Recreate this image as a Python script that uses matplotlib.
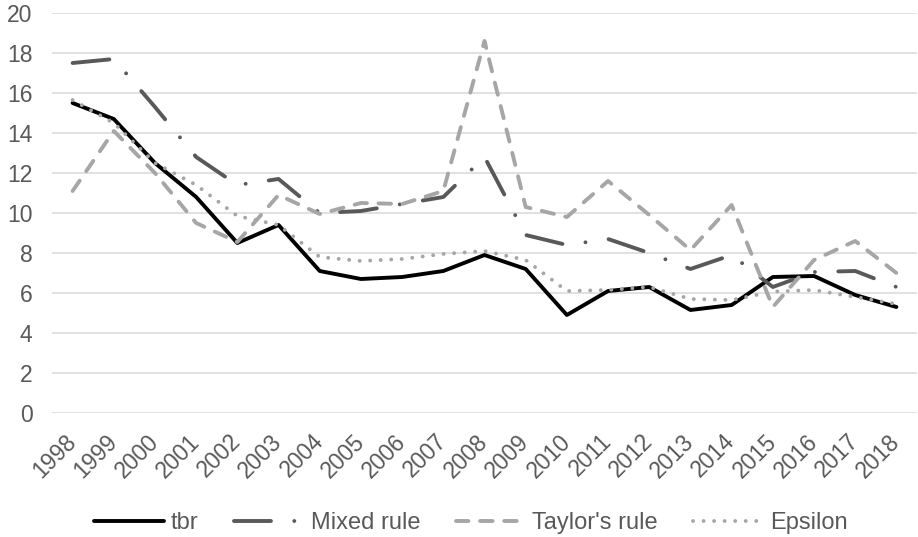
import matplotlib
matplotlib.use("Agg")
import matplotlib.pyplot as plt
import numpy as np

years = ["1998", "1999", "2000", "2001", "2002", "2003", "2004", "2005", "2006", "2007",
         "2008", "2009", "2010", "2011", "2012", "2013", "2014", "2015", "2016", "2017", "2018"]
tbr = [15.5, 14.7, 12.5, 10.8, 8.5, 9.4, 7.1, 6.7, 6.8, 7.1,
       7.9, 7.2, 4.9, 6.1, 6.3, 5.15, 5.4, 6.8, 6.85, 5.9, 5.3]
mixed = [17.5, 17.7, 15.3, 12.8, 11.4, 11.7, 10.0, 10.1, 10.45, 10.8,
         12.8, 8.9, 8.4, 8.7, 8.0, 7.2, 7.9, 6.3, 7.05, 7.1, 6.3]
taylor = [11.1, 14.1, 12.0, 9.5, 8.55, 10.9, 9.95, 10.5, 10.45, 11.1,
          18.6, 10.3, 9.8, 11.6, 9.9, 8.15, 10.4, 5.3, 7.65, 8.6, 7.0]
epsilon = [15.65, 14.5, 12.5, 11.4, 9.85, 9.4, 7.8, 7.6, 7.7, 7.95,
           8.1, 7.65, 6.1, 6.15, 6.3, 5.7, 5.65, 6.07, 6.15, 5.8, 5.45]
series_names = ["tbr", "Mixed rule", "Taylor's rule", "Epsilon"]
yticks = [0, 2, 4, 6, 8, 10, 12, 14, 16, 18, 20]

plt.rcParams['font.family'] = ['Liberation Sans', 'DejaVu Sans']
text_color = '#595959'

W, H = 918, 537
fig = plt.figure(figsize=(W / 100, H / 100), dpi=100)
left = 52 / W
right = 917 / W
top = 1 - 13 / H
bottom = 1 - 413 / H
ax = fig.add_axes([left, bottom, right - left, top - bottom])

x = np.arange(len(years))
lw = 2.8
ax.plot(x, tbr, color='black', lw=lw, solid_capstyle='round', solid_joinstyle='round',
        label=series_names[0], zorder=3)
ax.plot(x, mixed, color='#595959', lw=lw, linestyle=(0, (9.5, 6.0, 0.01, 6.0)),
        dash_capstyle='round', dash_joinstyle='round', label=series_names[1], zorder=4)
ax.plot(x, taylor, color='#A6A6A6', lw=lw, linestyle=(0, (3.2, 3.0)),
        dash_capstyle='round', dash_joinstyle='round', label=series_names[2], zorder=5)
ax.plot(x, epsilon, color='#A6A6A6', lw=lw, linestyle=(0, (0.01, 2.7)),
        dash_capstyle='round', dash_joinstyle='round', label=series_names[3], zorder=6)

ax.set_xlim(-0.5, len(years) - 0.5)
ax.set_ylim(0, 20)
ax.set_yticks(yticks)
ax.set_yticklabels([str(v) for v in yticks])
ax.set_xticks(x)
ax.set_xticklabels(years, rotation=45, ha='right', va='center', rotation_mode='anchor')

ax.grid(axis='y', color='#D9D9D9', lw=1.1, zorder=0)
ax.set_axisbelow(True)
for s in ax.spines.values():
    s.set_visible(False)
ax.tick_params(axis='both', length=0, labelsize=16.5, labelcolor=text_color)
ax.tick_params(axis='y', pad=14)
ax.tick_params(axis='x', pad=18)

leg = fig.legend(loc='center', bbox_to_anchor=(471 / W, 14 / H), ncol=4, frameon=False,
                 fontsize=17, handlelength=2.95, handletextpad=0.3, columnspacing=1.5,
                 labelcolor=text_color)

fig.savefig('out.png', dpi=100)
